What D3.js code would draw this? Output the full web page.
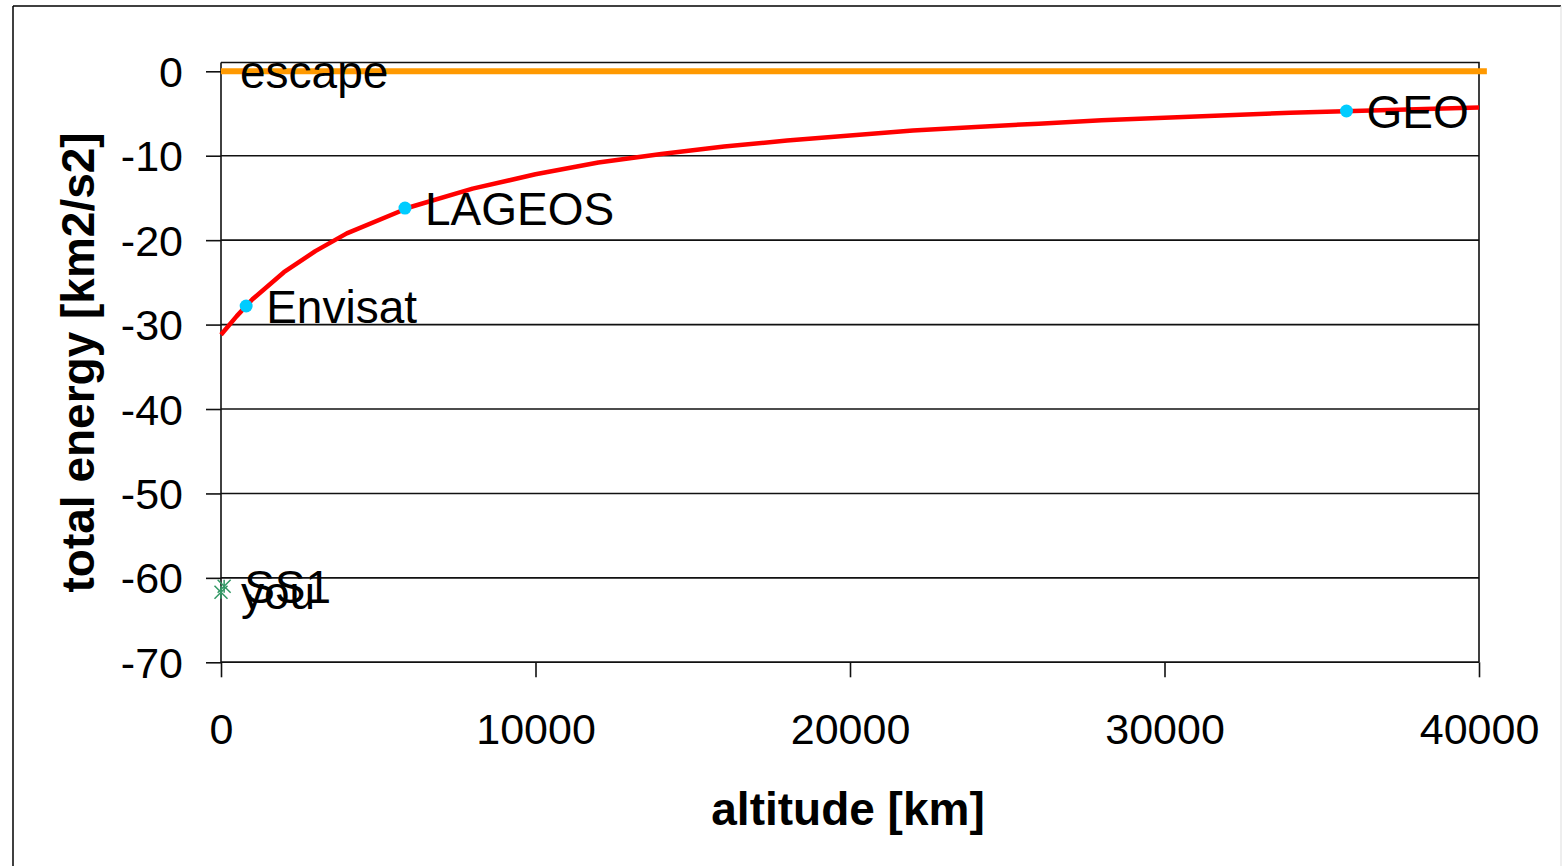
<!DOCTYPE html>
<html>
<head>
<meta charset="utf-8">
<script src="https://cdn.jsdelivr.net/npm/d3@7/dist/d3.min.js"></script>
<style>
  html, body { margin: 0; padding: 0; background: #fff; }
  svg { display: block; font-family: "Liberation Sans", Arial, sans-serif; }
</style>
</head>
<body>
<svg id="chart" width="1562" height="866"></svg>
<script>
// Specific orbital energy versus altitude
const altitudeKm = [0, 500, 1000, 2000, 3000, 4000, 6000, 8000, 10000, 12000, 14000, 16000,
  18000, 20000, 22000, 24000, 26000, 28000, 30000, 32000, 34000, 36000, 38000, 40000];
const totalEnergy = [-31.2, -29.0, -27.0, -23.8, -21.3, -19.2, -16.1, -13.9, -12.2, -10.8, -9.8, -8.9,
  -8.2, -7.6, -7.0, -6.6, -6.2, -5.8, -5.5, -5.2, -4.9, -4.7, -4.5, -4.3];

// Escape level
const escapeAlt = [0, 40250];
const escapeEnergy = [0, 0];

// Satellites on the curve
const satNames = ["Envisat", "LAGEOS", "GEO"];
const satAlt = [800, 5850, 35786];
const satEnergy = [-27.8, -16.2, -4.7];

// Near the ground
const groundNames = ["SS1", "you"];
const groundAlt = [100, 0];
const groundEnergy = [-61.0, -61.7];

// Axis ticks
const yTicks = [0, -10, -20, -30, -40, -50, -60, -70];
const xTicks = [0, 10000, 20000, 30000, 40000];

const svg = d3.select("#chart");
const W = 1562, H = 866;

// outer chart frame
svg.append("line").attr("x1", 13).attr("y1", 6).attr("x2", 13).attr("y2", H)
  .attr("stroke", "#000").attr("stroke-width", 1.5);
svg.append("line").attr("x1", 13).attr("y1", 6).attr("x2", 1561).attr("y2", 6)
  .attr("stroke", "#000").attr("stroke-width", 1.5);
svg.append("line").attr("x1", 1561).attr("y1", 6).attr("x2", 1561).attr("y2", H)
  .attr("stroke", "#ddd").attr("stroke-width", 1);

const x = d3.scaleLinear().domain([0, 40000]).range([221, 1479]);
const y = d3.scaleLinear().domain([-70, 0]).range([662.3, 71.3]);
const plotTop = 62.5;

// gridlines
svg.append("g").selectAll("line")
  .data(yTicks.filter(v => v < 0))
  .join("line")
  .attr("x1", x(0)).attr("x2", x(40000))
  .attr("y1", d => y(d)).attr("y2", d => y(d))
  .attr("stroke", "#111").attr("stroke-width", 1.6);

// plot area border (top, right)
svg.append("path")
  .attr("d", `M${x(0)},${plotTop}H${x(40000)}V${y(-70)}`)
  .attr("fill", "none").attr("stroke", "#111").attr("stroke-width", 1.6);

// axes (plain hyphen-minus in tick labels)
const plain = d => String(d);
const yAxis = d3.axisLeft(y).tickValues(yTicks).tickSize(15).tickPadding(23).tickFormat(plain);
const gy = svg.append("g").attr("transform", `translate(${x(0)},0)`).call(yAxis);
gy.select(".domain").attr("d", `M0,${plotTop}V${y(-70)}`);

const xAxis = d3.axisBottom(x).tickValues(xTicks).tickSize(15).tickPadding(36).tickFormat(plain);
const gx = svg.append("g").attr("transform", `translate(0,${y(-70)})`).call(xAxis);
gx.select(".domain").attr("d", `M${x(0)},0H${x(40000)}`);

[gy, gx].forEach(g => {
  g.select(".domain").attr("stroke", "#111").attr("stroke-width", 1.6);
  g.selectAll(".tick line").attr("stroke", "#111").attr("stroke-width", 1.6);
  g.selectAll(".tick text").attr("fill", "#000")
    .style("font-family", '"Liberation Sans", Arial, sans-serif').style("font-size", "43px");
});
gy.selectAll(".tick text").attr("dy", "0.35em");

// axis titles
svg.append("text")
  .attr("x", (x(0) + x(40000)) / 2 - 2).attr("y", 825)
  .attr("text-anchor", "middle")
  .style("font-size", "46px").style("font-weight", "bold").attr("fill", "#000")
  .text("altitude [km]");
svg.append("text")
  .attr("transform", `translate(94,${(plotTop + y(-70)) / 2}) rotate(-90)`)
  .attr("text-anchor", "middle")
  .style("font-size", "46px").style("font-weight", "bold").attr("fill", "#000")
  .text("total energy [km2/s2]");

const line = d3.line().x(d => x(d[0])).y(d => y(d[1]));

// escape line
svg.append("path")
  .datum(d3.zip(escapeAlt, escapeEnergy))
  .attr("d", line)
  .attr("fill", "none").attr("stroke", "#FF9900").attr("stroke-width", 6);

// energy curve
svg.append("path")
  .datum(d3.zip(altitudeKm, totalEnergy))
  .attr("d", line)
  .attr("fill", "none").attr("stroke", "#FF0000").attr("stroke-width", 4.5)
  .attr("stroke-linejoin", "round");

// satellite markers
svg.append("g").selectAll("circle")
  .data(d3.zip(satAlt, satEnergy))
  .join("circle")
  .attr("cx", d => x(d[0])).attr("cy", d => y(d[1])).attr("r", 6.5)
  .attr("fill", "#00CCFF");

// ground markers (asterisks)
const star = 6.5;
svg.append("g").selectAll("path")
  .data(d3.zip(groundAlt, groundEnergy))
  .join("path")
  .attr("d", d => {
    const cx = x(d[0]), cy = y(d[1]);
    return `M${cx - star},${cy - star}L${cx + star},${cy + star}` +
           `M${cx - star},${cy + star}L${cx + star},${cy - star}` +
           `M${cx},${cy - star}V${cy + star}`;
  })
  .attr("fill", "none").attr("stroke", "#339966").attr("stroke-width", 1.5);

// data labels
const labelStyle = sel => sel
  .attr("dy", "0.36em")
  .style("font-size", "46px").attr("fill", "#000");

svg.append("text").call(labelStyle)
  .attr("x", x(escapeAlt[0]) + 19).attr("y", y(escapeEnergy[0]))
  .text("escape");

svg.append("g").selectAll("text")
  .data(satNames)
  .join("text").call(labelStyle)
  .attr("x", (d, i) => x(satAlt[i]) + 20).attr("y", (d, i) => y(satEnergy[i]))
  .text(d => d);

svg.append("g").selectAll("text")
  .data(groundNames)
  .join("text").call(labelStyle)
  .attr("x", (d, i) => x(groundAlt[i]) + 20).attr("y", (d, i) => y(groundEnergy[i]))
  .text(d => d);
</script>
</body>
</html>
